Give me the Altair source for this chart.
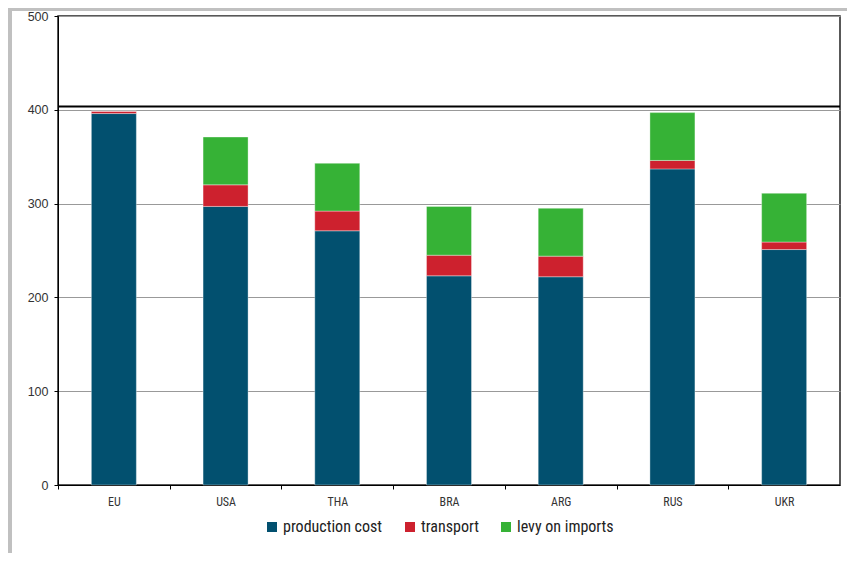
import altair as alt
import pandas as pd

categories = ["EU", "USA", "THA", "BRA", "ARG", "RUS", "UKR"]
production_cost = [396, 297, 271, 223, 222, 337, 251]
transport = [2.5, 23, 21, 22, 22, 9, 8]
levy_on_imports = [0, 51, 51, 52, 51, 51, 52]
threshold = [403.5]

series_names = ["production cost", "transport", "levy on imports"]
series_values = [production_cost, transport, levy_on_imports]
series_colors = ["#02506F", "#CD212E", "#36B236"]

rows = []
for s_i, (name, vals) in enumerate(zip(series_names, series_values)):
    for cat, v in zip(categories, vals):
        rows.append({"country": cat, "series": name, "value": v, "order": s_i})
df = pd.DataFrame(rows)

FONT = "Liberation Sans Narrow, Roboto Condensed, Arial Narrow, Liberation Sans, sans-serif"
W, H = 782, 469
step = W / len(categories)

bars = alt.Chart(df).mark_bar(size=45, stroke="#ffffff", strokeOpacity=0.35, strokeWidth=1).encode(
    x=alt.X("country:N", sort=categories, title=None,
            scale=alt.Scale(paddingInner=0, paddingOuter=0),
            axis=alt.Axis(labelAngle=0, domainColor="black", tickColor="black",
                          tickSize=4, labelPadding=7, labelFontSize=12,
                          labelColor="#333333", labelFont=FONT,
                          tickOffset=-step / 2, labelOffset=step / 2)),
    y=alt.Y("value:Q", stack="zero", title=None,
            scale=alt.Scale(domain=[0, 500], nice=False),
            axis=alt.Axis(values=[0, 100, 200, 300, 400, 500], domainColor="black",
                          tickColor="black", tickSize=4, labelPadding=6,
                          labelFontSize=12.5, labelColor="#333333",
                          labelFont="Liberation Sans, sans-serif",
                          grid=True, gridColor="#999999", gridWidth=1)),
    color=alt.Color("series:N", sort=series_names,
                    scale=alt.Scale(domain=series_names, range=series_colors),
                    legend=alt.Legend(title=None, orient="none", direction="horizontal",
                                      legendX=206, legendY=503,
                                      symbolType="square", symbolSize=100,
                                      symbolStrokeWidth=0, labelFontSize=16,
                                      labelFont=FONT, labelColor="#222222",
                                      labelOffset=3, columnPadding=19)),
    order=alt.Order("order:Q", sort="ascending"),
)

thr = alt.Chart(pd.DataFrame({"t": threshold})).mark_rule(color="black", strokeWidth=2).encode(
    y=alt.Y("t:Q")
)

frame_left = alt.Chart(pd.DataFrame({"a": [0]})).mark_rule(color="#c0c0c0", strokeWidth=4).encode(
    x=alt.value(-48), y=alt.value(-8), y2=alt.value(H + 68)
)
frame_top = alt.Chart(pd.DataFrame({"a": [0]})).mark_rule(color="#c0c0c0", strokeWidth=3).encode(
    x=alt.value(-50), x2=alt.value(W + 7), y=alt.value(-6.5)
)

chart = alt.layer(bars, thr, frame_left, frame_top).properties(
    width=W, height=H,
    autosize=alt.AutoSizeParams(type="none"),
    padding={"left": 50, "top": 8, "right": 7, "bottom": 68},
    background="white",
).configure_view(stroke="#222222", strokeWidth=1.5)

chart.save("out.html", embed_options={"renderer": "svg", "actions": False})
